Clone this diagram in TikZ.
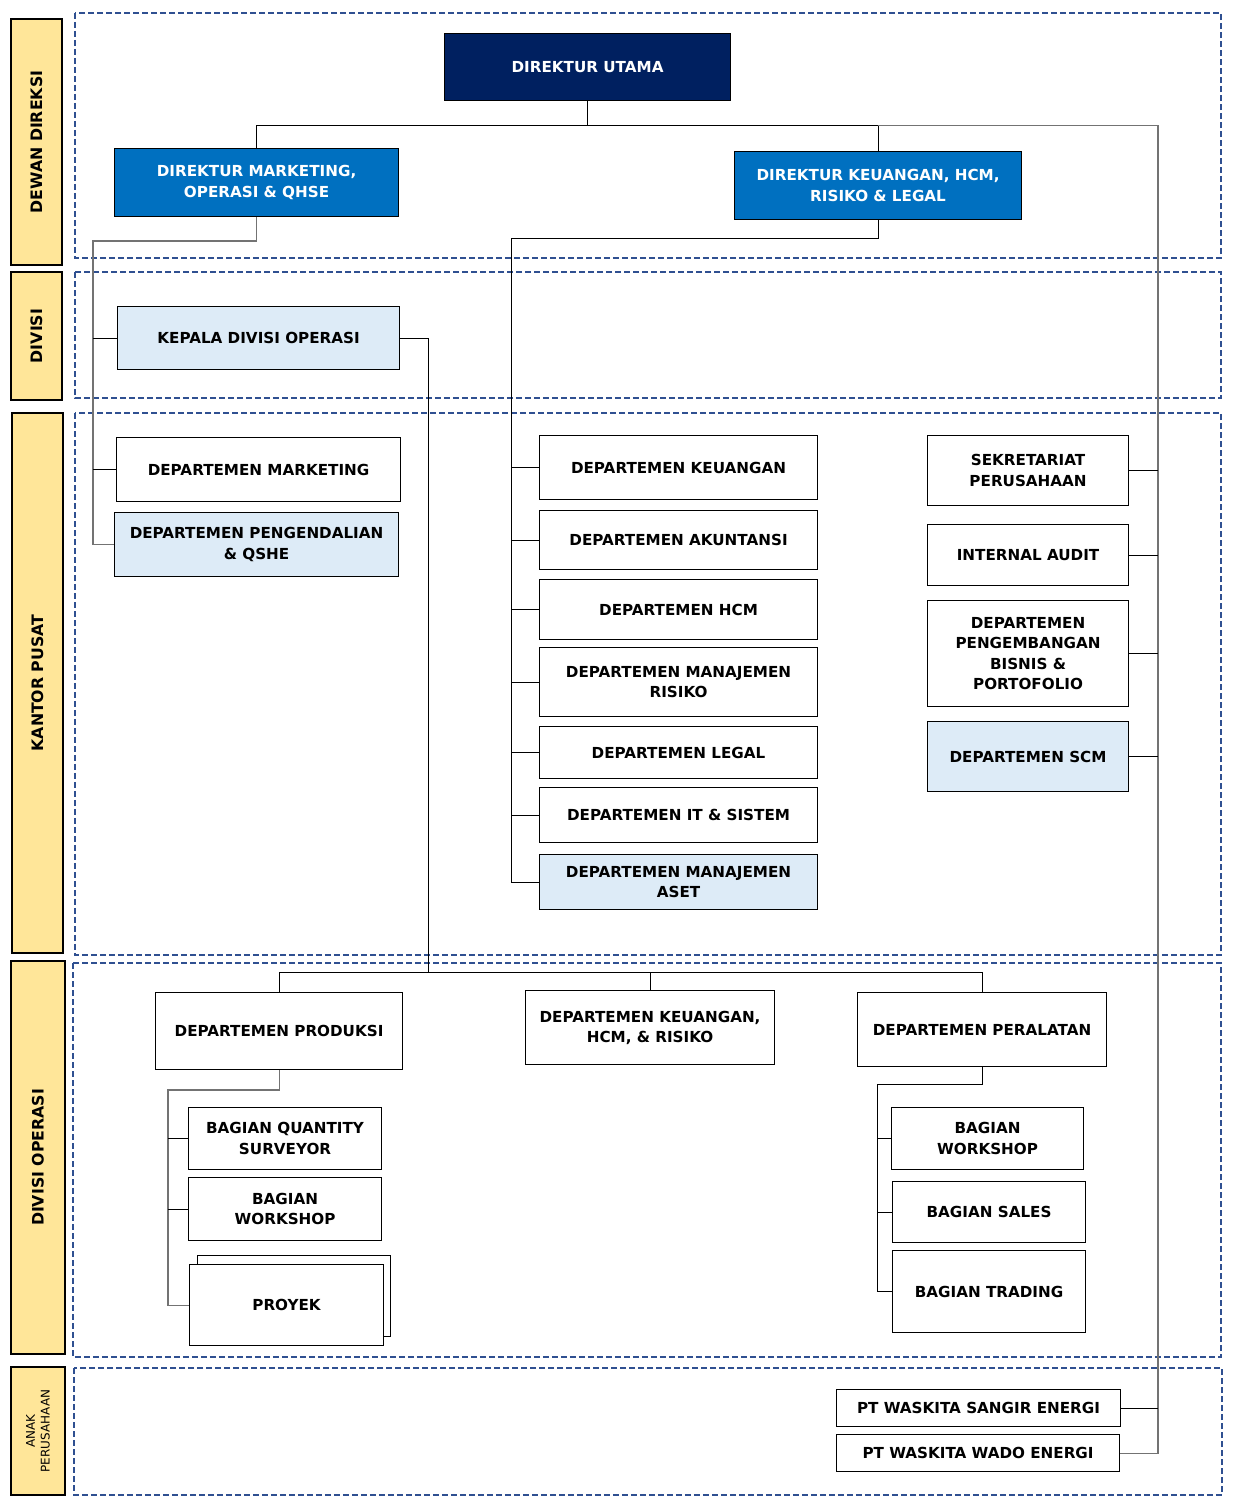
\documentclass[tikz,border=0pt]{standalone}
\usepackage{fontspec}
\setmainfont{DejaVu Sans}
\usetikzlibrary{positioning,calc}
\definecolor{navy}{RGB}{0,32,96}
\definecolor{dirblue}{RGB}{0,112,192}
\definecolor{paleblue}{RGB}{221,235,247}
\definecolor{laneyel}{RGB}{255,230,153}
\definecolor{zoneblue}{RGB}{47,80,145}
\tikzset{
  wh/.style 2 args={minimum width=#1*0.025cm, minimum height=#2*0.025cm},
  bx/.style={rectangle, draw=black, line width=0.8pt, anchor=north west, inner sep=2pt,
             align=center, font=\fontsize{10.8}{14.4}\selectfont\bfseries},
  dirU/.style={bx, fill=navy, text=white},
  dirB/.style={bx, fill=dirblue, text=white},
  dept/.style={bx, fill=white},
  lane/.style={rectangle, draw=black, line width=0.8pt, fill=laneyel, rotate=90,
               align=center, inner sep=1pt, font=\fontsize{11.2}{13}\selectfont\bfseries},
  zone/.style={draw=zoneblue, line width=1pt, dash pattern=on 4.2pt off 2.2pt},
  ln/.style={draw=black, line width=0.6pt},
  lng/.style={draw=black!55, line width=0.8pt},
}

\begin{document}
\begin{tikzpicture}[x=0.025cm, y=-0.025cm]
\useasboundingbox (0,0) rectangle (1240,1512);

% ============================ zones and lanes ============================
\draw[zone] (75,13)   rectangle (1221,258);
\draw[zone] (75,272)  rectangle (1221,398);
\draw[zone] (75,413)  rectangle (1221,955);
\draw[zone] (73,963)  rectangle (1221,1357);
\draw[zone] (74,1368) rectangle (1222,1495);

\node[lane, wh={246}{51}] (l1) at (36.5,142)  {DEWAN DIREKSI};
\node[lane, wh={128}{51}] (l2) at (36.5,336)  {DIVISI};
\node[lane, wh={540}{51}] (l3) at (37.5,683)  {KANTOR PUSAT};
\node[lane, wh={393}{54}] (l4) at (38,1157.5) {DIVISI OPERASI};
\node[lane, wh={128}{54}, font=\fontsize{8.5}{10.5}\selectfont] (l5) at (38,1431) {ANAK\\PERUSAHAAN};

% ============================ direksi ============================
\node[dirU, wh={286}{67}] (du) at (444,33)  {DIREKTUR UTAMA};
\node[dirB, wh={284}{68}] (dm) at (114,148) {DIREKTUR MARKETING,\\OPERASI \& QHSE};
\node[dirB, wh={287}{68}] (dk) at (734,151) {DIREKTUR KEUANGAN, HCM,\\RISIKO \& LEGAL};

% ============================ divisi / kantor pusat ============================
\node[dept, fill=paleblue, wh={282}{63}] (kdo)  at (117,306) {KEPALA DIVISI OPERASI};
\node[dept, wh={284}{64}]                (mkt)  at (116,437) {DEPARTEMEN MARKETING};
\node[dept, fill=paleblue, wh={284}{64}] (qshe) at (114,512) {DEPARTEMEN PENGENDALIAN\\\& QSHE};

\foreach \nd/\fc/\yy/\hh/\txt in {%
  keu/white/435/64/{DEPARTEMEN KEUANGAN},%
  aku/white/510/59/{DEPARTEMEN AKUNTANSI},%
  hcm/white/579/60/{DEPARTEMEN HCM},%
  mrk/white/647/69/{DEPARTEMEN MANAJEMEN\\RISIKO},%
  leg/white/726/52/{DEPARTEMEN LEGAL},%
  its/white/787/55/{DEPARTEMEN IT \& SISTEM},%
  aset/paleblue/854/55/{DEPARTEMEN MANAJEMEN\\ASET}%
}
{
  \node[dept, fill=\fc, wh={278}{\hh}] (\nd) at (539,\yy) {\txt};
}

\foreach \nd/\fc/\yy/\hh/\txt in {%
  sek/white/435/70/{SEKRETARIAT\\PERUSAHAAN},%
  ia/white/524/61/{INTERNAL AUDIT},%
  pbp/white/600/106/{DEPARTEMEN\\PENGEMBANGAN\\BISNIS \&\\PORTOFOLIO},%
  scm/paleblue/721/70/{DEPARTEMEN SCM}%
}
{
  \node[dept, fill=\fc, wh={201}{\hh}] (\nd) at (927,\yy) {\txt};
}

% ============================ divisi operasi ============================
\node[dept, wh={247}{77}] (prod) at (155,992) {DEPARTEMEN PRODUKSI};
\node[dept, wh={249}{74}] (khr)  at (525,990) {DEPARTEMEN KEUANGAN,\\HCM, \& RISIKO};
\node[dept, wh={249}{74}] (per)  at (857,992) {DEPARTEMEN PERALATAN};

\node[dept, wh={193}{62}] (qs)    at (188,1107) {BAGIAN QUANTITY\\SURVEYOR};
\node[dept, wh={193}{63}] (ws1)   at (188,1177) {BAGIAN\\WORKSHOP};
\node[dept, wh={193}{81}] (proyb) at (197,1255) {};
\node[dept, wh={194}{81}] (proy)  at (189,1264) {PROYEK};

\node[dept, wh={192}{62}] (ws2) at (891,1107) {BAGIAN\\WORKSHOP};
\node[dept, wh={193}{61}] (sal) at (892,1181) {BAGIAN SALES};
\node[dept, wh={193}{82}] (trd) at (892,1250) {BAGIAN TRADING};

% ============================ anak perusahaan ============================
\node[dept, wh={284}{37}] (sangir) at (836,1389) {PT WASKITA SANGIR ENERGI};
\node[dept, wh={283}{37}] (wado)   at (836,1434) {PT WASKITA WADO ENERGI};

% ============================ connectors ============================
\coordinate (bus) at ($(du.south)+(0,24)$);
\draw[ln] (du.south) -- (bus);
\draw[ln] (dm.north) |- (dk.north |- bus) -- (dk.north);
\coordinate (rt) at (1158,124);
\draw[lng] (dk.north |- bus) -- (rt |- bus) -- (rt |- wado.east) -- (wado.east);
\foreach \nd in {sek,ia,pbp,scm,sangir}
  \draw[ln] (\nd.east) -- (\nd.east -| rt);

\coordinate (lt) at (93,241);
\draw[lng] (dm.south) |- (lt) -- (lt |- qshe.west) -- (qshe.west);
\foreach \nd in {kdo,mkt}
  \draw[ln] (\nd.west) -- (\nd.west -| lt);

\coordinate (mt) at (511,238);
\draw[ln] (dk.south) |- (mt) -- (mt |- aset.west) -- (aset.west);
\foreach \nd in {keu,aku,hcm,mrk,leg,its}
  \draw[ln] (\nd.west) -- (\nd.west -| mt);

\coordinate (ob) at (428,972);
\draw[ln] (kdo.east) -| (ob);
\draw[ln] (prod.north) |- (per.north |- ob) -- (per.north);
\draw[ln] (khr.north) -- (khr.north |- ob);

\coordinate (pt) at (168,1090);
\draw[lng] (prod.south) |- (pt) -- (pt |- proy.west) -- (proy.west);
\foreach \nd in {qs,ws1}
  \draw[ln] (\nd.west) -- (\nd.west -| pt);

\coordinate (qt) at (877,1084);
\draw[ln] (per.south) |- (qt) -- (qt |- trd.west) -- (trd.west);
\foreach \nd in {ws2,sal}
  \draw[ln] (\nd.west) -- (\nd.west -| qt);

\end{tikzpicture}
\end{document}
